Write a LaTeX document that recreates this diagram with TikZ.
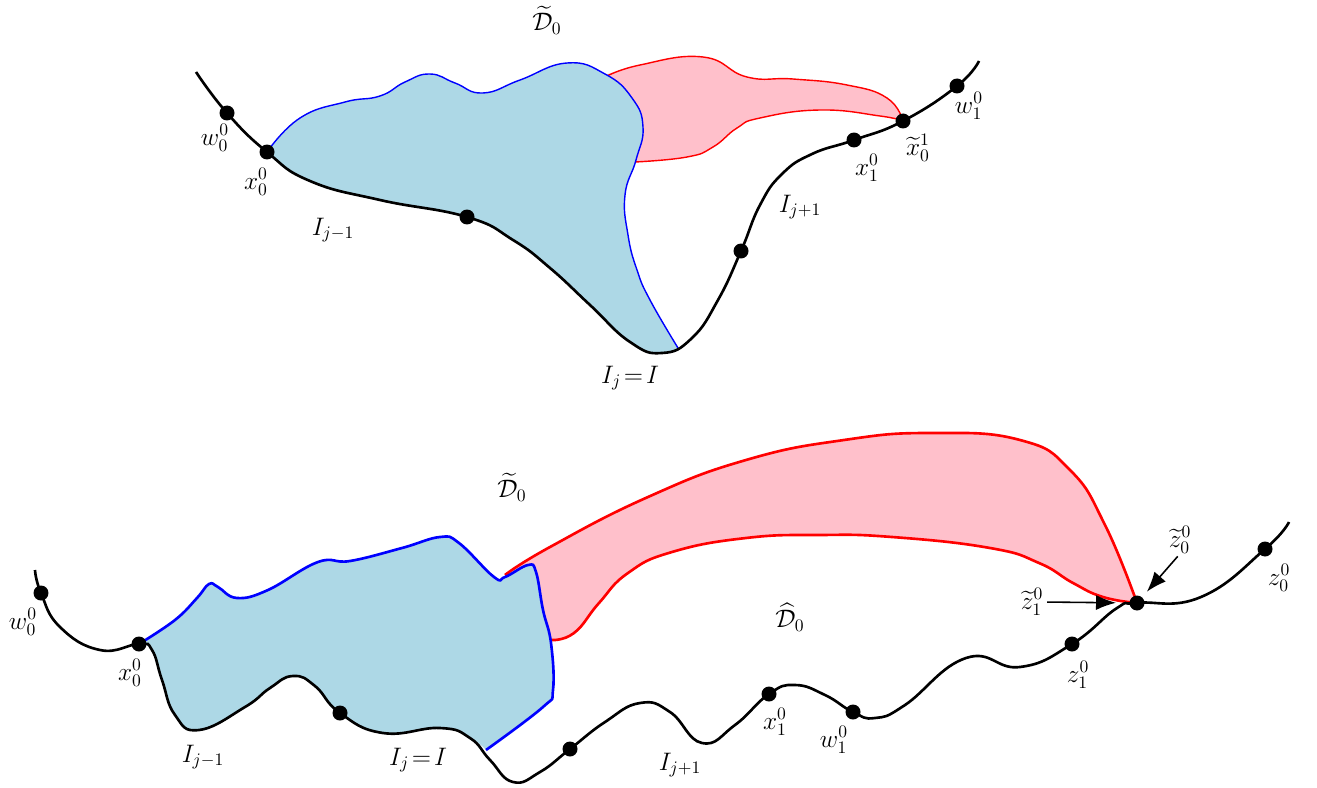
\documentclass[tikz,border=0pt]{standalone}
\usepackage{amsmath}
\usetikzlibrary{arrows.meta}
\definecolor{RegionBlue}{HTML}{ADD8E6}
\definecolor{RegionPink}{HTML}{FFC0CB}

\begin{document}
\begin{tikzpicture}[x=0.02cm,y=-0.02cm,
  dot/.style={circle,fill=black,inner sep=0pt,minimum size=0.3cm},
  lab/.style={font=\fontsize{14}{16}\selectfont,inner sep=0pt},
  curve/.style={line width=1.5pt,draw=black},
  thinedge/.style={line width=0.8pt},
  thickedge/.style={line width=1.5pt},
  arrow/.style={-{Latex[length=4mm,width=3mm]},line width=0.9pt,shorten <=2pt}
]
\useasboundingbox (0,0) rectangle (1317,787);

\fill[RegionPink] plot[smooth,tension=0.8] coordinates {(598,78) (640,65) (703,57) (747,77) (793,79) (847,85) (887,98) (903,121)}
  -- plot[smooth,tension=0.8] coordinates {(903,121) (880,116) (820,110) (760,118) (737,128) (713,147) (687,157) (635,162)} -- cycle;
\draw[red,thinedge] plot[smooth,tension=0.8] coordinates {(605,77) (640,65) (703,57) (747,77) (793,79) (847,85) (887,98) (903,121)};
\draw[red,thinedge] plot[smooth,tension=0.8] coordinates {(903,121) (880,116) (820,110) (760,118) (737,128) (713,147) (687,157) (635,162)};

\fill[RegionBlue] plot[smooth,tension=0.8] coordinates {(267,152) (300,118) (345,102) (380,96) (405,82) (430,74) (455,83) (483,93) (520,80) (567,63) (605,74) (632,98) (643,127) (636,160) (625,195) (628,235) (637,270) (650,300) (678,348)}
  -- plot[smooth,tension=0.8] coordinates {(678,348) (662,353) (630,342) (590,305) (550,268) (513,240) (467,217) (380,200) (310,181) (267,152)} -- cycle;
\draw[blue,thinedge] plot[smooth,tension=0.8] coordinates {(267,152) (300,118) (345,102) (380,96) (405,82) (430,74) (455,83) (483,93) (520,80) (567,63) (605,74) (632,98) (643,127) (636,160) (625,195) (628,235) (637,270) (650,300) (678,348)};

\draw[curve] plot[smooth,tension=0.8] coordinates {(196,72) (227,113) (267,152) (310,181) (380,200) (467,217) (513,240) (550,268) (590,305) (630,342) (662,353) (692,338) (718,300) (741,251) (760,205) (782,174) (812,154) (854,140) (903,121) (957,86) (979,61)};

\node[dot] (tw0) at (227,113) {};
\node[dot] (tx0) at (267,152) {};
\node[dot] (tmid) at (467,217) {};
\node[dot] (tup) at (741,251) {};
\node[dot] (tx1) at (854,140) {};
\node[dot] (txt) at (903,121) {};
\node[dot] (tw1) at (957,86) {};

\node[lab] (tD) at (547,20) {$\widetilde{\mathcal{D}}_0$};
\node[lab] (lw0) at (215,138) {$w_0^0$};
\node[lab] (lx0) at (256,182) {$x_0^0$};
\node[lab] (lIa) at (333,230) {$I_{j-1}$};
\node[lab] (lIb) at (630,378) {$I_j\!=\!I$};
\node[lab] (lIc) at (800,207) {$I_{j+1}$};
\node[lab] (lx1) at (867,168) {$x_1^0$};
\node[lab] (lxt) at (918,148) {$\widetilde{x}_0^1$};
\node[lab] (lw1) at (969,106) {$w_1^0$};

\fill[RegionPink] plot[smooth,tension=0.8] coordinates {(505,575) (550,547) (648,497) (746,460) (844,440) (932,433) (1020,440) (1070,470) (1105,525) (1137,603)}
  -- plot[smooth,tension=0.8] coordinates {(1137,603) (1103,597) (1073,583) (1039,563) (990,548) (892,537) (819,535) (746,538) (672,552) (628,573) (599,603) (574,633) (551,640)} -- cycle;
\draw[red,thickedge] plot[smooth,tension=0.8] coordinates {(505,575) (550,547) (648,497) (746,460) (844,440) (932,433) (1020,440) (1070,470) (1105,525) (1137,603)};
\draw[red,thickedge] plot[smooth,tension=0.8] coordinates {(1137,603) (1103,597) (1073,583) (1039,563) (990,548) (892,537) (819,535) (746,538) (672,552) (628,573) (599,603) (574,633) (551,640)};

\fill[RegionBlue] plot[smooth,tension=0.7] coordinates {(139,644) (175,620) (197,598) (209,584) (218,587) (237,598) (268,590) (318,562) (350,561) (402,548) (440,537) (459,543) (494,577) (505,577) (528,565) (536,572) (543,610) (551,643) (553,690) (543,707) (486,750)}
  -- plot[smooth,tension=0.8] coordinates {(486,750) (470,738) (440,728) (383,733) (340,713) (315,686) (293,676) (270,688) (245,707) (199,730) (175,715) (162,680) (152,650) (139,644)} -- cycle;
\draw[blue,thickedge] plot[smooth,tension=0.7] coordinates {(139,644) (175,620) (197,598) (209,584) (218,587) (237,598) (268,590) (318,562) (350,561) (402,548) (440,537) (459,543) (494,577) (505,577) (528,565) (536,572) (543,610) (551,643) (553,690) (543,707) (486,750)};

\draw[curve] plot[smooth,tension=0.8] coordinates {(35,570) (41,593) (60,627) (100,650) (139,644) (152,650) (162,680) (175,715) (199,730) (245,707) (270,688) (293,676) (315,686) (340,713) (383,733) (440,728) (470,738) (490,760) (513,782) (540,772) (570,749) (605,722) (640,703) (670,712) (702,743) (735,725) (769,694) (795,685) (825,695) (853,712) (875,718) (905,705) (966,658) (1020,667) (1072,644) (1117,608) (1137,603) (1201,597) (1265,549) (1289,522)};

\node[dot] (bw0) at (41,593) {};
\node[dot] (bx0) at (139,644) {};
\node[dot] (bmid) at (340,713) {};
\node[dot] (blow) at (570,749) {};
\node[dot] (bx1) at (769,694) {};
\node[dot] (bw1) at (853,712) {};
\node[dot] (bz1) at (1072,644) {};
\node[dot] (bj) at (1137,603) {};
\node[dot] (bz0) at (1265,549) {};

\node[lab] (bD) at (512,487) {$\widetilde{\mathcal{D}}_0$};
\node[lab] (bDh) at (790,617) {$\widehat{\mathcal{D}}_0$};
\node[lab] (mw0) at (23,622) {$w_0^0$};
\node[lab] (mx0) at (130,673) {$x_0^0$};
\node[lab] (mIa) at (203,757) {$I_{j-1}$};
\node[lab] (mIb) at (418,760) {$I_j\!=\!I$};
\node[lab] (mIc) at (680,765) {$I_{j+1}$};
\node[lab] (mx1) at (775,722) {$x_1^0$};
\node[lab] (mw1) at (834,740) {$w_1^0$};
\node[lab] (mz1) at (1078,675) {$z_1^0$};
\node[lab] (mzt1) at (1032,602) {$\widetilde{z}_1^0$};
\node[lab] (mzt0) at (1180,540) {$\widetilde{z}_0^0$};
\node[lab] (mz0) at (1279,578) {$z_0^0$};

\draw[arrow,shorten >=0.42cm] (mzt1.east) -- (bj.center);
\draw[arrow,shorten >=0.3cm] (mzt0.south) -- (bj.center);
\end{tikzpicture}
\end{document}
